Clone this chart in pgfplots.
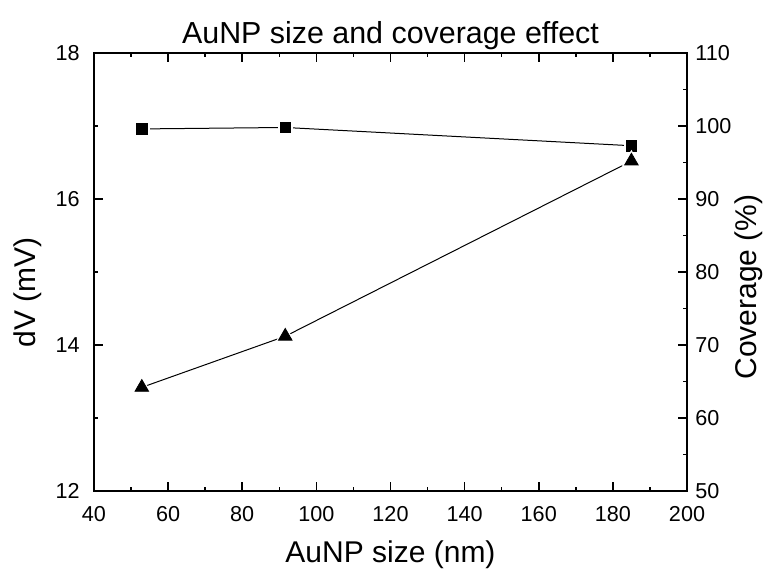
\documentclass[border=0pt]{standalone}
\usepackage{fontspec}
\setmainfont{Liberation Sans}
\usepackage{pgfplots}
\pgfplotsset{compat=1.18}
\begin{document}
\begin{tikzpicture}
\useasboundingbox (-47pt,-39.5pt) rectangle (335pt,245.5pt);
\pgfplotsset{
  common/.style={
    scale only axis, width=296.5pt, height=219pt,
    at={(0,0)}, anchor=south west,
    xmin=40, xmax=200, xtick={40,60,...,200}, minor x tick num=1,
    tick align=inside,
    major tick length=4.5pt, minor tick length=2.2pt,
    every tick/.style={line width=0.8pt, black},
    axis line style={line width=1pt},
    tick label style={font=\fontsize{10.8}{13}\selectfont},
    /pgf/number format/assume math mode=true,
  }
}
\begin{axis}[common,
  ymin=12, ymax=18, ytick={12,14,16,18}, minor y tick num=1,
  ytick pos=left, xtick pos=both,
  xticklabel pos=bottom,
  xticklabel style={yshift=-4.2pt},
  yticklabel style={xshift=-3.7pt},
  xlabel={AuNP size (nm)}, ylabel={dV (mV)},
  every axis x label/.style={at={(axis description cs:0.5,-0.146)}, anchor=center, font=\fontsize{15}{18}\selectfont},
  every axis y label/.style={at={(axis description cs:-0.112,0.453)}, anchor=center, rotate=90, font=\fontsize{15}{18}\selectfont},
  title={AuNP size and coverage effect},
  every axis title/.style={at={(axis description cs:0.5,1.040)}, anchor=center, font=\fontsize{15.2}{18}\selectfont},
]
\addplot[black, line width=0.5pt, no markers] coordinates {(52.9,16.96) (91.6,16.98) (185,16.73)};
\addplot[only marks, mark=square*, mark size=3.6pt, mark options={fill=white, draw=white}] coordinates {(52.9,16.96) (91.6,16.98) (185,16.73)};
\addplot[only marks, mark=square*, mark size=2.6pt, mark options={fill=black, draw=black}] coordinates {(52.9,16.96) (91.6,16.98) (185,16.73)};
\end{axis}
\begin{axis}[common,
  ymin=50, ymax=110, ytick={50,60,...,110}, minor y tick num=1,
  axis y line*=right, axis x line=none,
  yticklabel style={xshift=0.7pt},
  ylabel={Coverage (\%)},
  every axis y label/.style={at={(axis description cs:1.1046,0.466)}, anchor=center, rotate=90, font=\fontsize{15}{18}\selectfont},
]
\addplot[black, line width=0.5pt, no markers] coordinates {(52.9,64.2) (91.6,71.2) (185,95.2)};
\addplot[only marks, mark=triangle*, mark size=5.2pt, mark options={fill=white, draw=white}] coordinates {(52.9,64.2) (91.6,71.2) (185,95.2)};
\addplot[only marks, mark=triangle*, mark size=3.9pt, mark options={fill=black, draw=black}] coordinates {(52.9,64.2) (91.6,71.2) (185,95.2)};
\end{axis}
\end{tikzpicture}
\end{document}
